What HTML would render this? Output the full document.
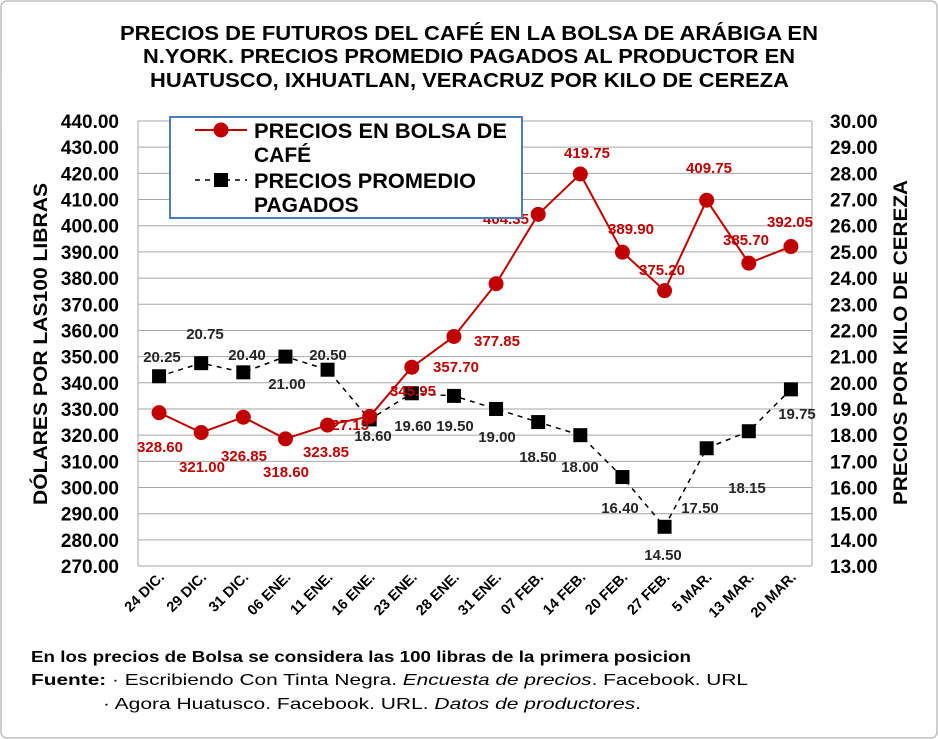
<!DOCTYPE html>
<html><head><meta charset="utf-8"><style>
body{margin:0;background:#fff}
svg{display:block;font-family:"Liberation Sans",Arial,sans-serif;font-weight:bold}
</style></head><body>
<svg width="938" height="739" viewBox="0 0 938 739" xmlns="http://www.w3.org/2000/svg">
<rect x="1" y="1" width="936" height="737" rx="6" fill="#fff" stroke="#bfbfbf" stroke-width="1.5"/>
<g font-size="20" fill="#000">
<text x="120" y="40" textLength="698" lengthAdjust="spacingAndGlyphs">PRECIOS DE FUTUROS DEL CAFÉ EN LA BOLSA DE ARÁBIGA EN</text>
<text x="143" y="63" textLength="652" lengthAdjust="spacingAndGlyphs">N.YORK. PRECIOS PROMEDIO PAGADOS AL PRODUCTOR EN</text>
<text x="150" y="87" textLength="639" lengthAdjust="spacingAndGlyphs">HUATUSCO, IXHUATLAN, VERACRUZ POR KILO DE CEREZA</text>
</g>
<g id="grid" stroke="#a6a6a6" stroke-width="1"></g>
<g id="yl" font-size="19" text-anchor="end"></g>
<g id="yr" font-size="19" text-anchor="start"></g>
<g id="xl" font-size="14.5" text-anchor="end"></g>
<text transform="translate(47,505) rotate(-90)" font-size="19" textLength="322" lengthAdjust="spacingAndGlyphs">DÓLARES POR LAS100 LIBRAS</text>
<text transform="translate(907,505) rotate(-90)" font-size="19" textLength="325" lengthAdjust="spacingAndGlyphs">PRECIOS POR KILO DE CEREZA</text>
<g id="series"></g>
<g id="lab" font-size="15" text-anchor="middle"></g>
<rect x="170" y="117" width="352" height="101" fill="#fff" stroke="#4a7ebb" stroke-width="2"/>
<line x1="195" y1="130" x2="247" y2="130" stroke="#c00000" stroke-width="2"/>
<circle cx="221" cy="130" r="7.5" fill="#c00000"/>
<line x1="195" y1="180" x2="247" y2="180" stroke="#000" stroke-width="1.5" stroke-dasharray="5,5"/>
<rect x="214" y="173" width="14" height="14" fill="#000"/>
<g font-size="21">
<text x="254" y="138" textLength="253" lengthAdjust="spacingAndGlyphs">PRECIOS EN BOLSA DE</text>
<text x="254" y="162">CAFÉ</text>
<text x="254" y="188" textLength="222" lengthAdjust="spacingAndGlyphs">PRECIOS PROMEDIO</text>
<text x="254" y="212">PAGADOS</text>
</g>
<g font-size="16">
<text x="31" y="662" textLength="660" lengthAdjust="spacingAndGlyphs">En los precios de Bolsa se considera las 100 libras de la primera posicion</text>
<text x="31" y="685" textLength="717" lengthAdjust="spacingAndGlyphs">Fuente: <tspan font-weight="normal">· Escribiendo Con Tinta Negra. <tspan font-style="italic">Encuesta de precios</tspan>. Facebook. URL</tspan></text>
<text x="103" y="709" font-weight="normal" textLength="538" lengthAdjust="spacingAndGlyphs">· Agora Huatusco. Facebook. URL. <tspan font-style="italic">Datos de productores</tspan>.</text>
</g>
<script>
(function(){
var ns="http://www.w3.org/2000/svg";
function el(p,t,a,txt){var e=document.createElementNS(ns,t);for(var k in a)e.setAttribute(k,a[k]);if(txt!=null)e.textContent=txt;document.getElementById(p).appendChild(e);return e;}
var T0=121,st=26.18,L=138,R=812,B=566;
for(var i=0;i<=17;i++){var y=T0+i*st;el('grid','line',{x1:L,x2:R,y1:y,y2:y});
el('yl','text',{x:119,y:y+7},(440-i*10).toFixed(2));el('yr','text',{x:830,y:y+7},(30-i).toFixed(2));}
el('grid','line',{x1:L,x2:L,y1:T0,y2:B});el('grid','line',{x1:R,x2:R,y1:T0,y2:B});
var cats=["24 DIC.","29 DIC.","31 DIC.","06 ENE.","11 ENE.","16 ENE.","23 ENE.","28 ENE.","31 ENE.","07 FEB.","14 FEB.","20 FEB.","27 FEB.","5 MAR.","13 MAR.","20 MAR."];
var dx=(R-L)/16;function X(i){return L+dx*(i+0.5);}
cats.forEach(function(c,i){el('xl','text',{transform:'translate('+(X(i)+6)+',578) rotate(-45)'},c);});
var r=[328.60,321.00,326.85,318.60,323.85,327.15,345.95,357.70,377.85,404.35,419.75,389.90,375.20,409.75,385.70,392.05];
var b=[20.25,20.75,20.40,21.00,20.50,18.60,19.60,19.50,19.00,18.50,18.00,16.40,14.50,17.50,18.15,19.75];
function YR(v){return T0+(440-v)/10*st;}function YB(v){return T0+(30-v)*st;}
el('series','polyline',{points:b.map(function(v,i){return X(i)+','+YB(v)}).join(' '),fill:'none',stroke:'#000','stroke-width':1.5,'stroke-dasharray':'5,5'});
b.forEach(function(v,i){el('series','rect',{x:X(i)-7,y:YB(v)-7,width:14,height:14,fill:'#000'});});
el('series','polyline',{points:r.map(function(v,i){return X(i)+','+YR(v)}).join(' '),fill:'none',stroke:'#c00000','stroke-width':2});
r.forEach(function(v,i){el('series','circle',{cx:X(i),cy:YR(v),r:7.5,fill:'#c00000'});});
var rl=[[160,447],[202,467],[244,456],[286,472],[326,452],[346,425],[413,391],[456,367],[497,341],[506,219],[587,153],[631,229],[662,270],[709,168],[746,240],[790,222]];
var bl=[[162,357],[205,334],[247,355],[287,384],[328,355],[373,436],[413,426],[455,426],[497,437],[538,457],[580,467],[620,508],[663,555],[700,508],[747,488],[797,414]];
rl.forEach(function(p,i){el('lab','text',{x:p[0],y:p[1]+5,fill:'#c00000'},r[i].toFixed(2));});
bl.forEach(function(p,i){el('lab','text',{x:p[0],y:p[1]+5,fill:'#262626'},b[i].toFixed(2));});
})();
</script>
</svg>
</body></html>
